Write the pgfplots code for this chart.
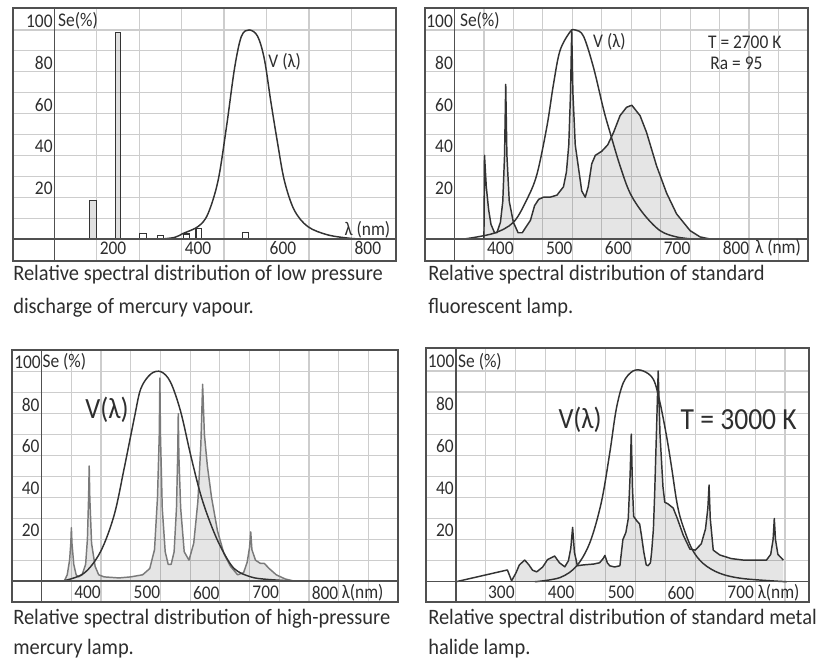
\documentclass[border=0pt]{standalone}
\usepackage{fontspec}
\setmainfont{Carlito}[FakeStretch=0.9]
\newfontfamily\capfont[FakeStretch=0.93]{Carlito}
\usepackage{pgfplots}
\pgfplotsset{compat=1.18}
\definecolor{gridc}{HTML}{CDCDCD}
\definecolor{framec}{HTML}{505050}
\definecolor{txt}{HTML}{2E2E2E}
\definecolor{curve}{HTML}{333333}
\definecolor{spec3}{HTML}{7A7A7A}
\pgfplotsset{
 panel/.style={
  scale only axis, anchor=south west,
  axis line style={draw=framec, line width=1pt},
  grid=major, grid style={draw=gridc, line width=0.9pt},
  major tick length=0pt,
  xticklabels={}, yticklabels={},
  ytick={10,20,...,100},
 },
 vcurve/.style={draw=curve, line width=1.1pt, smooth, tension=0.55},
 spec/.style={draw=curve, line width=1.1pt, fill=black, fill opacity=0.1, line join=round},
 specfill/.style={draw=none, fill=black, fill opacity=0.1},
 specline/.style={draw=curve, line width=1.1pt, line join=round},
}
\pgfplotstableread{
x y
343 0.5
350 4
356 8
365 10.3
372 8
378 5.5
385 4.7
395 7
403 10.5
415 12.2
423 9
432 7.1
438 10
442 16
445 25.8
448 14
453 7.6
463 8
480 8.4
490 9
496 11
499 12.5
503 9
507 7.6
515 7
524 7.6
529 20
534 23.4
538 30
541 50
543 70
545 45
547 31
552 29
557 27.4
560 22
564 14
568 8
571 7.6
575 9
577 14
580 25
582 40.8
585 70
588 100
591 70
596 45
599 37.7
604 37
613 35
620 30
630 22
641 15.5
650 15
660 18
667 25
671 35
673 45.9
675 30
680 15
691 12.7
710 11
730 10.3
769 10.3
776 13
780 20
782 30
784 20
788 13
797 10.3
}\mhspec
\begin{document}
\begin{tikzpicture}[every node/.append style={text=txt, inner sep=0pt, font=\fontsize{14.5}{16}\selectfont}]
\useasboundingbox (0,0) rectangle (612.75pt,495pt);
% ---------------- Panel 1 ----------------
\begin{axis}[panel, at={(9.75pt,299.25pt)}, width=287.25pt, height=189.75pt,
  xmin=3, xmax=905, ymin=-10.5, ymax=110.5, xtick={200,300,...,800}]
\addplot[draw=curve, line width=0.8pt, fill=black, fill opacity=0.12] coordinates {(183,0)(183,18.5)(199,18.5)(199,0)};
\addplot[draw=curve, line width=0.8pt, fill=black, fill opacity=0.12] coordinates {(244,0)(244,99)(257,99)(257,0)};
\addplot[draw=curve, line width=0.8pt, fill=white] coordinates {(302,0)(302,2.7)(318,2.7)(318,0)};
\addplot[draw=curve, line width=0.8pt, fill=white] coordinates {(344,0)(344,1.9)(357,1.9)(357,0)};
\addplot[draw=curve, line width=0.8pt, fill=white] coordinates {(404,0)(404,2.4)(418,2.4)(418,0)};
\addplot[draw=curve, line width=0.8pt, fill=white] coordinates {(434,0)(434,5.1)(447,5.1)(447,0)};
\addplot[draw=curve, line width=0.8pt, fill=white] coordinates {(544,0)(544,3.2)(557,3.2)(557,0)};
\addplot[vcurve] coordinates {(353,0)(384,0.8)(404,2.7)(439,6)(462,12)(486,28)(506,54)(525,82)(541,97)(559,100)(579,97)(595,86)(610,66)(626,46)(642,28)(665,14)(697,6)(744,2)(799,0.3)(833,0)};
\draw[framec, line width=1pt] (axis cs:100,-10.5) -- (axis cs:100,110.5);
\draw[framec, line width=1pt] (axis cs:3,0) -- (axis cs:905,0);
\node[anchor=east,xshift=-1pt] at (axis cs:100,104.3) {100};
\pgfplotsinvokeforeach{80,60,40,20}{\node[anchor=east,xshift=-1pt] at (axis cs:100,#1+4.3) {#1};}
\node[anchor=west,xshift=2.8pt] at (axis cs:100,104.3) {Se(\%)};
\pgfplotsinvokeforeach{200,400,600,800}{\node[anchor=west,xshift=2.2pt] at (axis cs:#1,-4.3) {#1};}
\node[anchor=east] at (axis cs:892,4.3) {λ (nm)};
\node[anchor=west] at (axis cs:604,84.7) {V (λ)};
\end{axis}
% ---------------- Panel 2 ----------------
\begin{axis}[panel, at={(318.75pt,299.25pt)}, width=287.25pt, height=189.75pt,
  xmin=300, xmax=950, ymin=-10.5, ymax=110.5, xtick={400,450,...,900}]
\addplot[spec] coordinates {(396,0)(400,0)(401,40)(404,25)(408,14)(412,7)(418,3)(422,3)(428,8)(432,18)(435,40)(437,74)(439,40)(443,18)(450,8)(458,3)(465,3)(472,6)(479,9)(486,16)(493,19)(501,20)(512,20)(524,21)(535,25)(540,32)(544,45)(547,70)(549,100)(551,70)(555,45)(560,35)(566,23)(572,20)(577,25)(583,36)(589,40)(600,42)(610,45)(620,51)(631,59)(642,63)(651,64)(665,59)(676,51)(693,35)(710,22)(727,12)(750,4)(767,1)(784,0)} \closedcycle;
\addplot[vcurve] coordinates {(366,0)(416,2.7)(450,8)(473,19)(490,31)(507,54)(518,74)(529,90)(546,99)(555,100)(569,97)(586,82)(603,62)(614,51)(631,35)(648,22)(671,12)(699,4)(727,1)(755,0)};
\draw[framec, line width=1pt] (axis cs:350,-10.5) -- (axis cs:350,110.5);
\draw[framec, line width=1pt] (axis cs:300,0) -- (axis cs:950,0);
\node[anchor=east,xshift=-1pt] at (axis cs:350,104.3) {100};
\pgfplotsinvokeforeach{80,60,40,20}{\node[anchor=east,xshift=-1pt] at (axis cs:350,#1+4.3) {#1};}
\node[anchor=west,xshift=4pt] at (axis cs:350,104.3) {Se(\%)};
\pgfplotsinvokeforeach{400,500,600,700,800}{\node[anchor=west,xshift=2.2pt] at (axis cs:#1,-4.3) {#1};}
\node[anchor=west,xshift=4.5pt] at (axis cs:850,-4.3) {λ (nm)};
\node[anchor=west] at (axis cs:585,94.3) {V (λ)};
\node[anchor=west] at (axis cs:780,94.3) {T = 2700 K};
\node[anchor=west] at (axis cs:784,84.2) {Ra = 95};
\end{axis}
% ---------------- Panel 3 ----------------
\begin{axis}[panel, at={(9pt,43.5pt)}, width=289.5pt, height=189pt,
  xmin=300, xmax=950, ymin=-10, ymax=110.4, xtick={400,450,...,900}]
\addplot[spec, draw=spec3] coordinates {(388,0)(393,3)(397,10)(399,18)(400,25.5)(401,18)(404,8)(408,3)(412,2)(418,3)(424,8)(427,20)(429,40)(430,55)(431,40)(434,18)(440,7)(446,3)(455,2)(480,1.5)(500,2)(520,3)(532,6)(540,15)(545,40)(548,70)(549,97)(550,70)(553,35)(558,14)(563,8)(568,8)(573,14)(577,35)(579,60)(580,80)(581,60)(584,35)(590,14)(598,10)(606,18)(613,38)(618,65)(621,94)(624,70)(629,55)(636,40)(646,24)(657,13)(668,7)(680,3)(690,4)(696,9)(700,16)(702,23.5)(704,15)(710,10)(718,8.5)(725,8.4)(733,6)(745,3)(760,1)(775,0)} \closedcycle;
\addplot[vcurve] coordinates {(385,0)(421,3.7)(449,14)(472,31.5)(489,54)(506,78)(517,92)(534,99)(551,100)(567,95)(584,81)(601,60)(618,41)(635,27)(652,16)(674,6)(702,2)(730,0.8)(775,0)};
\draw[framec, line width=1pt] (axis cs:350,-10) -- (axis cs:350,110.4);
\draw[framec, line width=1pt] (axis cs:300,0) -- (axis cs:950,0);
\node[anchor=east,xshift=-0.5pt] at (axis cs:350,104.6) {100};
\pgfplotsinvokeforeach{80,60,40,20}{\node[anchor=east,xshift=-1.5pt] at (axis cs:350,#1+4.3) {#1};}
\node[anchor=west,xshift=0.5pt] at (axis cs:350,104.6) {Se (\%)};
\pgfplotsinvokeforeach{400,500,600,700,800}{\node[anchor=west,xshift=2pt] at (axis cs:#1,-5.6) {#1};}
\node[anchor=west,xshift=2.2pt] at (axis cs:850,-5.6) {λ(nm)};
\node[anchor=west, font=\fontsize{22}{24}\selectfont] at (axis cs:423,81.7) {V(λ)};
\end{axis}
% ---------------- Panel 4 ----------------
\begin{axis}[panel, at={(319.5pt,43.5pt)}, width=287.25pt, height=190.5pt,
  xmin=200, xmax=840, ymin=-9.6, ymax=110.9, xtick={300,350,...,800}]
\addplot[specfill] table {\mhspec} \closedcycle;
\addplot[specline] coordinates {(250,0)(336,5.6)(343,0.5)};
\addplot[specline] table {\mhspec};
\addplot[vcurve] coordinates {(382,0)(424,2)(452,7.6)(474,18.7)(493,37.7)(507,61)(518,82)(530,94.6)(546,100)(563,100)(580,96)(591,85)(602,69)(610,55)(619,38)(627,28.5)(644,15.8)(663,8.7)(691,4)(730,1.5)(803,0)};
\draw[framec, line width=1pt] (axis cs:250,-9.6) -- (axis cs:250,110.9);
\draw[framec, line width=1pt] (axis cs:200,0) -- (axis cs:840,0);
\node[anchor=east,xshift=-1pt] at (axis cs:250,104.4) {100};
\pgfplotsinvokeforeach{80,60,40,20}{\node[anchor=east,xshift=-1.5pt] at (axis cs:250,#1+4.4) {#1};}
\node[anchor=west,xshift=1.5pt] at (axis cs:250,104.4) {Se (\%)};
\pgfplotsinvokeforeach{300,400,500,600,700}{\node[anchor=west,xshift=1.5pt] at (axis cs:#1,-5.2) {#1};}
\node[anchor=west,xshift=1.8pt] at (axis cs:750,-5.2) {λ(nm)};
\node[anchor=west, font=\fontsize{22}{24}\selectfont] at (axis cs:421,76.7) {V(λ)};
\node[anchor=west, font=\fontsize{23}{24}\selectfont] at (axis cs:625,76.7) {T = 3000 K};
\end{axis}
% ---------------- Captions ----------------
\begin{scope}[every node/.style={anchor=base west, inner sep=0pt, text=txt, font=\capfont\fontsize{16.5}{18}\selectfont}]
\node at (9.75pt,284.25pt) {Relative spectral distribution of low pressure};
\node at (9.75pt,259.5pt) {discharge of mercury vapour.};
\node at (321pt,284.25pt) {Relative spectral distribution of standard};
\node at (321pt,259.5pt) {fluorescent lamp.};
\node at (9.75pt,27pt) {Relative spectral distribution of high-pressure};
\node at (9.75pt,4pt) {mercury lamp.};
\node at (321pt,27pt) {Relative spectral distribution of standard metal};
\node at (321pt,4pt) {halide lamp.};
\end{scope}
\end{tikzpicture}
\end{document}
